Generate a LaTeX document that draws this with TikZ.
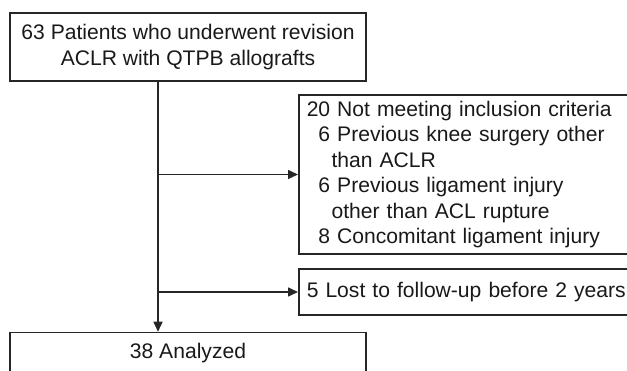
\documentclass[tikz,border=0pt]{standalone}
\usepackage{fontspec}
\setmainfont{Liberation Sans}
\usetikzlibrary{arrows.meta,positioning,calc}

\begin{document}
\begin{tikzpicture}[x=1pt,y=1pt,>={Triangle[length=10pt,width=9pt]},
 font=\fontsize{21.1}{25.5}\selectfont,
 box/.style={draw=black!85,line width=1.5pt,minimum width=356pt,inner sep=0pt,align=center,text=black!90},
 side/.style={draw=black!85,line width=1.5pt,text width=340pt,inner xsep=8pt,inner ysep=0pt,align=left,anchor=west,text=black!90},
 arr/.style={->,line width=1.5pt,draw=black!85}]
\useasboundingbox (0,0) rectangle (627,-371);
\node[box,minimum height=68pt] (pat) at (188,-47) {63 Patients who underwent revision\\ACLR with QTPB allografts};
\node[side,minimum height=159pt] (excl) at (298,-174.5) {20 Not meeting inclusion criteria\\
 \phantom{2}6 Previous knee surgery other\\
 \phantom{2}\hspace*{0.62em}than ACLR\\
 \phantom{2}6 Previous ligament injury\\
 \phantom{2}\hspace*{0.62em}other than ACL rupture\\
 \phantom{2}8 Concomitant ligament injury};
\node[side,minimum height=46pt] (lost) at (298,-292) {5 Lost to follow-up before 2 years};
\node[box,minimum height=42pt,below=250pt of pat] (ana) {38 Analyzed};
% trunk sits left of the box centres
\coordinate (trunk0) at ([xshift=-30pt]pat.south);
\coordinate (trunk1) at ([xshift=-30pt]ana.north);
\draw[arr] (trunk0) -- (trunk1);
\draw[arr] (trunk0 |- excl.west) -- (excl.west);
\draw[arr] (trunk0 |- lost.west) -- (lost.west);
\end{tikzpicture}
\end{document}
